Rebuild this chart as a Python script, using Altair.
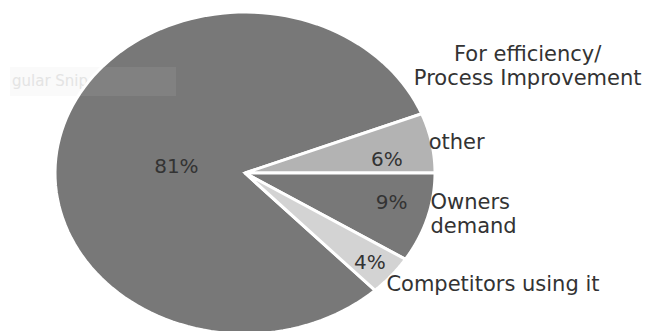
import altair as alt

# ---- data ----
categories = ["For efficiency/\nProcess Improvement", "other", "Owners\ndemand", "Competitors using it"]
values = [81, 6, 9, 4]
colors = ["#787878", "#b3b3b3", "#787878", "#d3d3d3"]

START_DEG = 136.8      # angle (clockwise from 12 o'clock) where the first slice starts
N_STEPS = 120          # points used to trace each slice's outer edge

records = [
    {"category": c, "value": v, "order": i, "steps": list(range(-1, N_STEPS + 1))}
    for i, (c, v) in enumerate(zip(categories, values))
]
data = alt.InlineData(values=records)

# elliptical pie (reference is horizontally stretched)
xs = alt.Scale(domain=[-1, 1], range=[55, 435], nice=False, zero=False)
ys = alt.Scale(domain=[-1, 1], range=[334, 12], nice=False, zero=False)

base = alt.Chart(data).transform_window(
    cum="sum(value)", sort=[alt.SortField("order")], frame=[None, 0]
).transform_joinaggregate(
    total="sum(value)"
).transform_calculate(
    a0=f"PI*{START_DEG}/180 + 2*PI*(datum.cum - datum.value)/datum.total",
    a1=f"PI*{START_DEG}/180 + 2*PI*datum.cum/datum.total",
).transform_calculate(
    mid="(datum.a0 + datum.a1)/2"
)

pie = base.transform_flatten(["steps"], as_=["k"]).transform_calculate(
    ang=f"datum.k < 0 ? 0 : datum.a0 + (datum.a1 - datum.a0) * datum.k / {N_STEPS}",
    rr="datum.k < 0 ? 0 : 1",
).transform_calculate(
    px="datum.rr * sin(datum.ang)",
    py="datum.rr * cos(datum.ang)",
).mark_line(
    filled=True, interpolate="linear-closed", stroke="white", strokeWidth=3,
    strokeJoin="miter", fillOpacity=1
).encode(
    x=alt.X("px:Q", scale=xs, axis=None),
    y=alt.Y("py:Q", scale=ys, axis=None),
    color=alt.Color("category:N", scale=alt.Scale(domain=categories, range=colors), legend=None),
    detail="category:N",
    order=alt.Order("k:Q"),
)

FONT = "DejaVu Sans"
TXT = "#333333"


def pct_label(idx, r, dx, dy):
    return base.transform_filter(alt.datum.order == idx).transform_calculate(
        lx=f"{r}*sin(datum.mid)",
        ly=f"{r}*cos(datum.mid)",
        txt="datum.value + '%'",
    ).mark_text(font=FONT, fontSize=20, color=TXT, dx=dx, dy=dy,
                align="center", baseline="middle").encode(
        x=alt.X("lx:Q", scale=xs, axis=None),
        y=alt.Y("ly:Q", scale=ys, axis=None),
        text="txt:N",
    )


def cat_label(idx, angle_field, align, dx, dy):
    return base.transform_filter(alt.datum.order == idx).transform_calculate(
        lx=f"sin(datum.{angle_field})",
        ly=f"cos(datum.{angle_field})",
    ).mark_text(font=FONT, fontSize=21, color=TXT, dx=dx, dy=dy, align=align,
                baseline="middle", lineBreak="\n", lineHeight=24).encode(
        x=alt.X("lx:Q", scale=xs, axis=None),
        y=alt.Y("ly:Q", scale=ys, axis=None),
        text="category:N",
    )


blank = alt.InlineData(values=[{}])
wm_bg = alt.Chart(blank).mark_rect(color="#fafafa").encode(
    x=alt.value(10), x2=alt.value(176), y=alt.value(67), y2=alt.value(96))
wm_txt = alt.Chart(blank).mark_text(
    text="gular Snip", font=FONT, fontSize=15, color="#e2e2e2", align="left", baseline="middle"
).encode(x=alt.value(12), y=alt.value(81))
wm_over = alt.Chart(blank).mark_rect(color="white", opacity=0.07).encode(
    x=alt.value(10), x2=alt.value(176), y=alt.value(67), y2=alt.value(96))

chart = alt.layer(
    wm_bg, wm_txt, pie, wm_over,
    pct_label(0, 0.37, 0, 7),
    pct_label(1, 0.76, 0, 10),
    pct_label(2, 0.76, 8, -4),
    pct_label(3, 0.86, -1, 2),
    cat_label(0, "a1", "center", 106, -59),
    cat_label(1, "mid", "left", -3, 0),
    cat_label(2, "mid", "left", 3, -15),
    cat_label(3, "mid", "left", -5, 9),
).properties(
    width=656, height=331, autosize="none", padding=0
).configure_view(stroke=None)

chart.save("out.html", embed_options={"renderer": "svg", "actions": False})
